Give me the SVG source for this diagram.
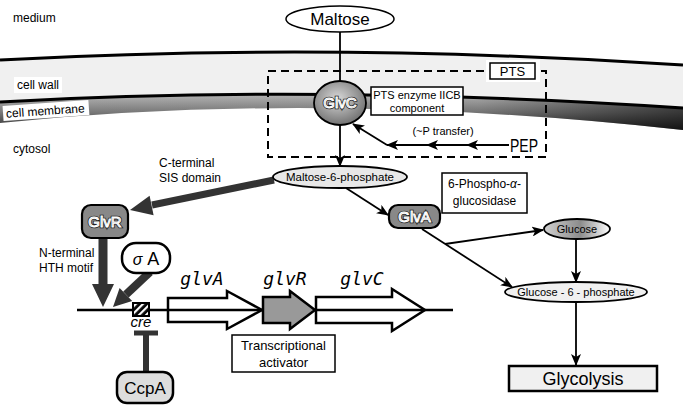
<svg xmlns="http://www.w3.org/2000/svg" width="683" height="410" viewBox="0 0 683 410">
<defs>
<linearGradient id="band" x1="0" y1="0" x2="0" y2="1">
<stop offset="0" stop-color="#b8b8b8"/><stop offset="0.5" stop-color="#7a7a7a"/><stop offset="1" stop-color="#2a2a2a"/>
</linearGradient>
<linearGradient id="bandH" x1="0" y1="0" x2="1" y2="0">
<stop offset="0" stop-color="#000" stop-opacity="0"/><stop offset="0.7" stop-color="#000" stop-opacity="0.05"/><stop offset="1" stop-color="#000" stop-opacity="0.55"/>
</linearGradient>
<radialGradient id="glvc" cx="0.45" cy="0.4" r="0.65">
<stop offset="0" stop-color="#d8d8d8"/><stop offset="1" stop-color="#6a6a6a"/>
</radialGradient>
<linearGradient id="gluc" x1="0" y1="0" x2="1" y2="0">
<stop offset="0" stop-color="#d0d0d0"/><stop offset="0.55" stop-color="#8c8c8c"/><stop offset="1" stop-color="#ffffff"/>
</linearGradient>
<pattern id="hatch" width="5" height="5" patternUnits="userSpaceOnUse" patternTransform="rotate(45)">
<rect width="5" height="5" fill="#000"/><rect width="2.2" height="5" fill="#fff"/>
</pattern>
<marker id="ah" viewBox="0 0 12 10" refX="11" refY="5" markerWidth="12" markerHeight="10" markerUnits="userSpaceOnUse" orient="auto">
<path d="M0,0 L12,5 L0,10 L3,5 z" fill="#000"/>
</marker>
<style>
text{font-family:"Liberation Sans",Arial,sans-serif;fill:#000}
.s11{font-size:11px}
.s12{font-size:12px}
.s13{font-size:13px}
.thin{stroke:#000;stroke-width:1.8;fill:none}
.box{fill:#fff;stroke:#000;stroke-width:1.5}
.prot{fill:#888;stroke:#000;stroke-width:2.2}
.gl1{font-size:15px;stroke:#222;stroke-width:2.6;fill:#222}
.gl2{font-size:15px;stroke:#fff;stroke-width:1;fill:#8a8a8a}
.gene{font-family:"DejaVu Sans Mono",monospace;font-style:italic;font-size:18px}
.thick{fill:#333;stroke:none}
</style>
</defs>
<rect width="683" height="410" fill="#fff"/>
<g id="membrane">
<path d="M0,60 Q330,42 683,65 L683,108 Q320,84 0,102 z" fill="#f0f0f0"/>
<path d="M0,102 Q320,84 683,108 L683,130 Q320,90 0,123 z" fill="url(#band)"/>
<path d="M0,102 Q320,84 683,108 L683,130 Q320,90 0,123 z" fill="url(#bandH)"/>
<path d="M0,60 Q330,42 683,65" fill="none" stroke="#000" stroke-width="3"/>
<path d="M0,102 Q320,84 683,108" fill="none" stroke="#000" stroke-width="3"/>
<rect x="14" y="77" width="48" height="16" fill="#fff"/>
<text x="17" y="89" class="s12">cell wall</text>
<g transform="rotate(-4 45 111)">
<rect x="3" y="103" width="86" height="15" fill="#fff"/>
<text x="6" y="115" class="s12">cell membrane</text>
</g>
<text x="13" y="22" class="s12">medium</text>
<text x="13" y="153" class="s12">cytosol</text>
</g>
<g id="pts">
<rect x="268" y="71" width="278" height="86" fill="none" stroke="#000" stroke-width="2" stroke-dasharray="8,5"/>
<rect x="486" y="60" width="54" height="22" fill="#fff"/>
<rect x="490" y="63" width="45" height="16" class="box"/>
<text x="512.5" y="76" class="s13" text-anchor="middle">PTS</text>
</g>
<g id="connectors">
<line x1="340" y1="32" x2="340" y2="82" class="thin"/>
<line x1="340" y1="125" x2="340" y2="166" class="thin" marker-end="url(#ah)"/>
<line x1="509" y1="145" x2="467" y2="145" class="thin" marker-end="url(#ah)"/>
<line x1="467" y1="145" x2="427" y2="145" class="thin" marker-end="url(#ah)"/>
<line x1="427" y1="145" x2="387" y2="145" class="thin" marker-end="url(#ah)"/>
<line x1="387" y1="145" x2="353" y2="124" class="thin" marker-end="url(#ah)"/>
<line x1="346" y1="188" x2="388" y2="215" class="thin" marker-end="url(#ah)"/>
<line x1="422" y1="229" x2="512" y2="287" class="thin" marker-end="url(#ah)"/>
<line x1="445" y1="244" x2="543" y2="230" class="thin" marker-end="url(#ah)"/>
<line x1="576" y1="239" x2="576" y2="282" class="thin" marker-end="url(#ah)"/>
<line x1="576" y1="302" x2="576" y2="365" class="thin" marker-end="url(#ah)"/>
<line x1="274" y1="180" x2="152" y2="205" stroke="#333" stroke-width="7"/>
<polygon points="130,210 153.6,215.3 149.6,195.7" class="thick"/>
<polygon points="98.5,238 107.5,238 107.5,284 114,284 103,307 92,284 98.5,284" class="thick"/>
<line x1="150" y1="272" x2="126" y2="294.5" stroke="#333" stroke-width="8"/>
<polygon points="113,307 132.2,301 119.6,288" class="thick"/>
<line x1="146" y1="333" x2="146" y2="372" stroke="#333" stroke-width="6"/>
<line x1="134" y1="333" x2="158" y2="333" stroke="#333" stroke-width="5"/>
</g>
<g id="maltose">
<ellipse cx="340" cy="19" rx="54" ry="13" fill="#fff" stroke="#000" stroke-width="1.5"/>
<text x="340" y="25" font-size="17" text-anchor="middle">Maltose</text>
</g>
<g id="glvC">
<ellipse cx="340" cy="103" rx="26" ry="22" fill="url(#glvc)" stroke="#000" stroke-width="1.8"/>
<text x="340" y="108" class="gl1" text-anchor="middle">GlvC</text>
<text x="340" y="108" class="gl2" text-anchor="middle">GlvC</text>
</g>
<g id="pts-label">
<rect x="371" y="87" width="92" height="28" class="box"/>
<text x="417" y="99" class="s11" text-anchor="middle">PTS enzyme IICB</text>
<text x="417" y="112" class="s11" text-anchor="middle">component</text>
</g>
<g id="ptransfer">
<text x="443" y="135" class="s11" text-anchor="middle">(~P transfer)</text>
</g>
<g id="pep">
<text x="510" y="152" font-size="18" textLength="28" lengthAdjust="spacingAndGlyphs">PEP</text>
</g>
<g id="m6p">
<ellipse cx="340" cy="177" rx="67" ry="11" fill="#e8e8e8" stroke="#000" stroke-width="1.8"/>
<text x="340" y="181" font-size="11.5" text-anchor="middle">Maltose-6-phosphate</text>
</g>
<g id="cterm">
<text x="159" y="167" class="s12">C-terminal</text>
<text x="159" y="182" class="s12">SIS domain</text>
</g>
<g id="glvR">
<rect x="82" y="205" width="46" height="33" rx="9" class="prot"/>
<text x="105" y="227" class="gl1" text-anchor="middle">GlvR</text>
<text x="105" y="227" class="gl2" text-anchor="middle">GlvR</text>
</g>
<g id="nterm">
<text x="39" y="257" class="s12">N-terminal</text>
<text x="39" y="272" class="s12">HTH motif</text>
</g>
<g id="sigmaA">
<rect x="122" y="243" width="48" height="30" rx="14" fill="#fff" stroke="#000" stroke-width="2.5"/>
<text x="146" y="265" font-size="18" text-anchor="middle"><tspan font-style="italic" font-size="16">σ</tspan> A</text>
</g>
<g id="genes">
<polygon points="168,298 227,298 227,291 262,310 227,329 227,322 168,322" fill="#fff" stroke="#000" stroke-width="2.5"/>
<polygon points="316,297 392,297 392,289 425,310 392,331 392,323 316,323" fill="#fff" stroke="#000" stroke-width="2.5"/>
<line x1="77" y1="310" x2="453" y2="310" stroke="#000" stroke-width="2.5"/>
<polygon points="263,297 290,297 290,291 315,310 290,329 290,323 263,323" fill="#999" stroke="#000" stroke-width="2.5"/>
<text x="202" y="285" class="gene" text-anchor="middle">glvA</text>
<text x="285" y="285" class="gene" text-anchor="middle">glvR</text>
<text x="362" y="285" class="gene" text-anchor="middle">glvC</text>
</g>
<g id="cre">
<rect x="133" y="303" width="16" height="13" fill="url(#hatch)" stroke="#000" stroke-width="2"/>
<text x="141" y="327" font-size="15" font-style="italic" text-anchor="middle">cre</text>
</g>
<g id="ccpA">
<rect x="117" y="372" width="56" height="31" rx="10" fill="#ddd" stroke="#000" stroke-width="2.5"/>
<text x="145" y="394" font-size="17" text-anchor="middle">CcpA</text>
</g>
<g id="tact">
<rect x="232" y="335" width="103" height="37" class="box"/>
<text x="283.5" y="350" class="s13" text-anchor="middle">Transcriptional</text>
<text x="283.5" y="367" class="s13" text-anchor="middle">activator</text>
</g>
<g id="glvA-label">
<rect x="442" y="173" width="85" height="40" class="box"/>
<text x="484.5" y="188" class="s12" text-anchor="middle">6-Phospho-<tspan font-style="italic">α</tspan>-</text>
<text x="484.5" y="205" class="s12" text-anchor="middle">glucosidase</text>
</g>
<g id="glvA">
<rect x="389" y="205" width="51" height="23" rx="9" class="prot"/>
<text x="414.5" y="222" class="gl1" text-anchor="middle">GlvA</text>
<text x="414.5" y="222" class="gl2" text-anchor="middle">GlvA</text>
</g>
<g id="glucose">
<ellipse cx="577" cy="229" rx="33" ry="10" fill="url(#gluc)" stroke="#000" stroke-width="1.8"/>
<text x="577" y="233" class="s11" text-anchor="middle">Glucose</text>
</g>
<g id="g6p">
<ellipse cx="576" cy="292" rx="71" ry="10" fill="#f0f0f0" stroke="#000" stroke-width="1.8"/>
<text x="576" y="296" class="s11" text-anchor="middle">Glucose - 6 - phosphate</text>
</g>
<g id="glycolysis">
<rect x="509" y="366" width="148" height="25" fill="#f0f0f0" stroke="#000" stroke-width="2.5"/>
<text x="583" y="385" font-size="18" text-anchor="middle">Glycolysis</text>
</g>
</svg>
